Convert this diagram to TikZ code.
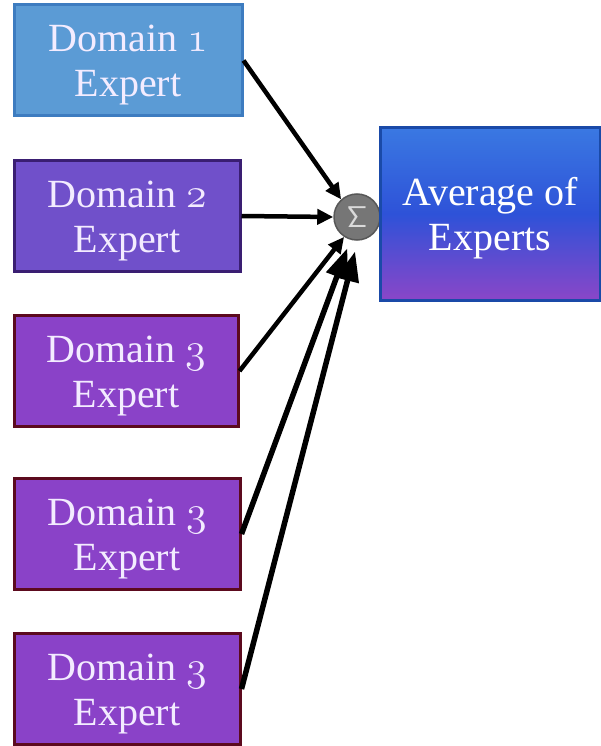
\RequirePackage{fix-cm}
\documentclass[tikz,border=0pt]{standalone}
\usepackage{fontspec}
\setmainfont{Liberation Serif}
\usetikzlibrary{arrows.meta}
\definecolor{dOneFill}{HTML}{5B9BD5}
\definecolor{dOneLine}{HTML}{3D7CC0}
\definecolor{dTwoFill}{HTML}{7050CA}
\definecolor{dTwoLine}{HTML}{3A1E72}
\definecolor{dThreeFill}{HTML}{8A42C8}
\definecolor{dThreeLine}{HTML}{5C0A1E}
\definecolor{avgTop}{HTML}{3A78E2}
\definecolor{avgMid}{HTML}{2E52D8}
\definecolor{avgBot}{HTML}{8A46C8}
\definecolor{avgLine}{HTML}{1A4AA8}
\definecolor{boxText}{HTML}{F3ECFF}
\definecolor{sumFill}{HTML}{767676}
\definecolor{sumLine}{HTML}{575757}
\definecolor{sumText}{HTML}{DADADA}
% old-style figure taken from the classic math italic font
\newcommand{\osnum}[1]{{\fontsize{42}{45}\usefont{OML}{cmm}{m}{it}#1}}
% thin sans-serif capital sigma
\newcommand{\sumsign}{{\fontsize{30}{30}\usefont{OT1}{cmss}{m}{n}\char6}}
% taller first line, so the two-line labels sit a little lower
\newcommand{\toppad}{\rule{0pt}{36pt}}
\tikzset{
  expertbox/.style={draw, line width=3pt, rectangle, minimum width=#1, minimum height=111pt,
    inner sep=0pt, align=center, text=boxText,
    font=\fontsize{40}{45}\selectfont},
  feed/.style={line width=4.5pt, draw=black, -{Triangle[length=16pt,width=15pt]}},
  bigfeed/.style={line width=5.5pt, draw=black, -{Triangle[length=30pt,width=22pt]}},
}
\begin{document}
\begin{tikzpicture}[x=1pt,y=-1pt]
  \useasboundingbox (0,0) rectangle (601,746);

  % expert boxes
  \node[expertbox=228pt, fill=dOneFill, draw=dOneLine] (e1) at (128,60.5)
    {\toppad Domain \osnum{1}\\Expert};
  \node[expertbox=226pt, fill=dTwoFill, draw=dTwoLine] (e2) at (127,216)
    {\toppad Domain \osnum{2}\\Expert};
  \node[expertbox=224pt, fill=dThreeFill, draw=dThreeLine] (e3) at (126,371)
    {\toppad Domain \osnum{3}\\Expert};
  \node[expertbox=226pt, fill=dThreeFill, draw=dThreeLine] (e4) at (127,534)
    {\toppad Domain \osnum{3}\\Expert};
  \node[expertbox=226pt, fill=dThreeFill, draw=dThreeLine] (e5) at (127,689)
    {\toppad Domain \osnum{3}\\Expert};

  % summation node
  \node[circle, fill=sumFill, draw=sumLine, line width=1.5pt, minimum size=46pt,
        inner sep=0pt, text=sumText]
    (sum) at (357,217) {\sumsign};

  % output box
  \node[rectangle, draw=avgLine, line width=3pt, minimum width=220pt, minimum height=172pt,
        inner sep=0pt, align=center, text=white,
        top color=avgTop, bottom color=avgBot, middle color=avgMid,
        font=\fontsize{40}{45}\selectfont]
    (avg) at (490,214) {\toppad Average of\\Experts};

  % connectors into the sum
  \draw[feed] (e1.east) -- (sum.132);
  \draw[feed] (e2.east) -- (sum.west);
  \draw[feed] (e3.east) -- (sum.237);
  \draw[bigfeed, shorten >=9pt] (e4.east) -- (sum.254);
  \draw[bigfeed, shorten >=11pt] (e5.east) -- (sum.272);
\end{tikzpicture}
\end{document}
